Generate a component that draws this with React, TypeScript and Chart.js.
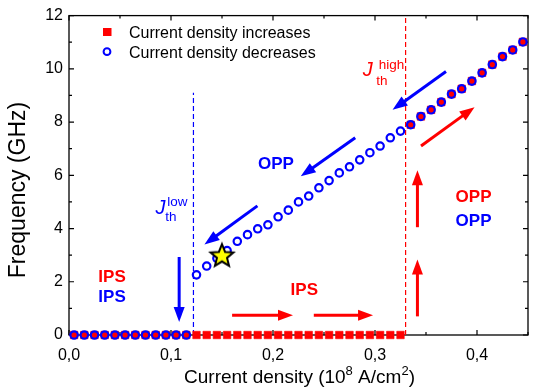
import React, { useEffect, useRef } from "react";
import { Chart, registerables } from "chart.js";

Chart.register(...registerables);

// ---- Data -------------------------------------------------------------
const currentDensity = [
  0.005, 0.015, 0.025, 0.035, 0.045, 0.055, 0.065, 0.075, 0.085, 0.095,
  0.105, 0.115, 0.125, 0.135, 0.145, 0.155, 0.165, 0.175, 0.185, 0.195,
  0.205, 0.215, 0.225, 0.235, 0.245, 0.255, 0.265, 0.275, 0.285, 0.295,
  0.305, 0.315, 0.325, 0.335, 0.345, 0.355, 0.365, 0.375, 0.385, 0.395,
  0.405, 0.415, 0.425, 0.435, 0.445,
];

const freqIncrease = [
  0, 0, 0, 0, 0, 0, 0, 0, 0, 0,
  0, 0, 0, 0, 0, 0, 0, 0, 0, 0,
  0, 0, 0, 0, 0, 0, 0, 0, 0, 0,
  0, 0, 0, 7.9, 8.21, 8.46, 8.75, 9.05, 9.25, 9.54,
  9.85, 10.16, 10.46, 10.71, 11.01,
];

const freqDecrease = [
  0, 0, 0, 0, 0, 0, 0, 0, 0, 0,
  0, 0, 2.26, 2.59, 2.88, 3.17, 3.52, 3.77, 3.99, 4.14,
  4.44, 4.69, 5.0, 5.22, 5.53, 5.8, 6.09, 6.32, 6.58, 6.85,
  7.1, 7.41, 7.66, 7.9, 8.21, 8.46, 8.75, 9.05, 9.25, 9.54,
  9.85, 10.16, 10.46, 10.71, 11.01,
];

const xTicks = [0, 0.1, 0.2, 0.3, 0.4];
const yTicks = [0, 2, 4, 6, 8, 10, 12];

const jLow = 0.122;
const jLowTop = 9.1;
const jHigh = 0.33;

const starPoint = { x: 0.15, y: 2.98 };

const seriesNames = ["Current density increases", "Current density decreases"];

const RED = "#ff0000";
const BLUE = "#0000ff";

// annotations (data coordinates)
const textLabels = [
  { text: "OPP", x: 0.2028, y: 6.42, color: BLUE },
  { text: "IPS", x: 0.0422, y: 2.16, color: RED },
  { text: "IPS", x: 0.0422, y: 1.4, color: BLUE },
  { text: "IPS", x: 0.2307, y: 1.67, color: RED },
  { text: "OPP", x: 0.3966, y: 5.16, color: RED },
  { text: "OPP", x: 0.3966, y: 4.29, color: BLUE },
];

const arrows = [
  { x1: 0.3696, y1: 9.9, x2: 0.3172, y2: 8.46, color: BLUE },
  { x1: 0.2806, y1: 7.41, x2: 0.2272, y2: 5.96, color: BLUE },
  { x1: 0.1847, y1: 4.85, x2: 0.1328, y2: 3.4, color: BLUE },
  { x1: 0.108, y1: 2.93, x2: 0.108, y2: 0.49, color: BLUE },
  { x1: 0.3451, y1: 7.1, x2: 0.3976, y2: 8.56, color: RED },
  { x1: 0.1599, y1: 0.74, x2: 0.2196, y2: 0.74, color: RED },
  { x1: 0.24, y1: 0.74, x2: 0.2981, y2: 0.74, color: RED },
  { x1: 0.3416, y1: 0.7, x2: 0.3416, y2: 2.84, color: RED },
  { x1: 0.3416, y1: 4.05, x2: 0.3416, y2: 6.19, color: RED },
];

const thresholdLabels = [
  { sup: "low", x: 0.0849, y: 4.56, supX: 0.0963, supY: 4.85, subX: 0.0944, subY: 4.3, color: BLUE },
  { sup: "high", x: 0.2879, y: 9.74, supX: 0.3037, supY: 9.98, subX: 0.3013, subY: 9.38, color: RED },
];

const FONT = '"Liberation Sans", Arial, sans-serif';

function makeStar(): HTMLCanvasElement {
  const c = document.createElement("canvas");
  c.width = 30;
  c.height = 30;
  const g = c.getContext("2d")!;
  const cx = 15, cy = 15.5, R = 12, r = 5.3;
  g.beginPath();
  for (let i = 0; i < 10; i++) {
    const a = -Math.PI / 2 + (i * Math.PI) / 5;
    const rad = i % 2 === 0 ? R : r;
    g.lineTo(cx + rad * Math.cos(a), cy + rad * Math.sin(a));
  }
  g.closePath();
  g.fillStyle = "#ffff00";
  g.fill();
  g.lineWidth = 2;
  g.strokeStyle = "#000";
  g.lineJoin = "miter";
  g.stroke();
  return c;
}

function drawArrow(ctx: CanvasRenderingContext2D, x1: number, y1: number, x2: number, y2: number, color: string) {
  const ang = Math.atan2(y2 - y1, x2 - x1);
  const hl = 15, hw = 5.5;
  const bx = x2 - hl * Math.cos(ang);
  const by = y2 - hl * Math.sin(ang);
  ctx.save();
  ctx.strokeStyle = color;
  ctx.lineWidth = 3;
  ctx.beginPath();
  ctx.moveTo(x1, y1);
  ctx.lineTo(bx + Math.cos(ang), by + Math.sin(ang));
  ctx.stroke();
  ctx.fillStyle = color;
  ctx.beginPath();
  ctx.moveTo(x2, y2);
  ctx.lineTo(bx + hw * Math.sin(ang), by - hw * Math.cos(ang));
  ctx.lineTo(bx - hw * Math.sin(ang), by + hw * Math.cos(ang));
  ctx.closePath();
  ctx.fill();
  ctx.restore();
}

const decorPlugin = {
  id: "decor",
  beforeDatasetsDraw(chart: any) {
    const ctx: CanvasRenderingContext2D = chart.ctx;
    const { left, right, top, bottom } = chart.chartArea;
    const xs = chart.scales.x;
    const ys = chart.scales.y;
    ctx.save();
    // frame
    ctx.strokeStyle = "#000";
    ctx.lineWidth = 1.3;
    ctx.strokeRect(left, top, right - left, bottom - top);
    // inward ticks
    ctx.lineWidth = 1.2;
    ctx.beginPath();
    for (let i = 0; i <= 9; i++) {
      const v = i * 0.05;
      const px = xs.getPixelForValue(v);
      const len = i % 2 === 0 ? 5 : 3;
      ctx.moveTo(px, bottom);
      ctx.lineTo(px, bottom - len);
      ctx.moveTo(px, top);
      ctx.lineTo(px, top + len);
    }
    for (let v = 0; v <= 12; v++) {
      const py = ys.getPixelForValue(v);
      const len = v % 2 === 0 ? 5 : 3;
      ctx.moveTo(left, py);
      ctx.lineTo(left + len, py);
      ctx.moveTo(right, py);
      ctx.lineTo(right - len, py);
    }
    ctx.stroke();
    ctx.restore();
  },
  afterDraw(chart: any) {
    const ctx: CanvasRenderingContext2D = chart.ctx;
    const { left } = chart.chartArea;
    const xs = chart.scales.x;
    const ys = chart.scales.y;
    ctx.save();

    // legend
    const lx = left + 38;
    ctx.fillStyle = RED;
    ctx.fillRect(lx - 4, 28, 8.5, 8);
    ctx.strokeStyle = BLUE;
    ctx.lineWidth = 2;
    ctx.beginPath();
    ctx.arc(lx, 51.7, 3.4, 0, Math.PI * 2);
    ctx.stroke();
    ctx.fillStyle = "#000";
    ctx.font = `16px ${FONT}`;
    ctx.textBaseline = "alphabetic";
    ctx.textAlign = "left";
    ctx.fillText(seriesNames[0], 129, 37.5);
    ctx.fillText(seriesNames[1], 129, 57.5);

    // arrows
    for (const a of arrows) {
      drawArrow(
        ctx,
        xs.getPixelForValue(a.x1), ys.getPixelForValue(a.y1),
        xs.getPixelForValue(a.x2), ys.getPixelForValue(a.y2),
        a.color
      );
    }

    // region labels
    ctx.font = `bold 17px ${FONT}`;
    ctx.textAlign = "center";
    ctx.textBaseline = "middle";
    for (const t of textLabels) {
      ctx.fillStyle = t.color;
      ctx.fillText(t.text, xs.getPixelForValue(t.x), ys.getPixelForValue(t.y));
    }

    // threshold labels J_th^low / J_th^high
    ctx.textAlign = "left";
    ctx.textBaseline = "alphabetic";
    for (const t of thresholdLabels) {
      ctx.fillStyle = t.color;
      ctx.font = `italic 20px ${FONT}`;
      ctx.fillText("J", xs.getPixelForValue(t.x), ys.getPixelForValue(t.y));
      ctx.font = `13.5px ${FONT}`;
      ctx.fillText(t.sup, xs.getPixelForValue(t.supX), ys.getPixelForValue(t.supY));
      ctx.fillText("th", xs.getPixelForValue(t.subX), ys.getPixelForValue(t.subY));
    }

    // x axis title with superscripts
    const parts: [string, boolean][] = [
      ["Current density (10", false],
      ["8", true],
      [" A/cm", false],
      ["2", true],
      [")", false],
    ];
    const big = `19px ${FONT}`;
    const small = `13px ${FONT}`;
    let total = 0;
    for (const [s, sup] of parts) {
      ctx.font = sup ? small : big;
      total += ctx.measureText(s).width;
    }
    let cx = 299.5 - total / 2;
    const base = 383;
    ctx.fillStyle = "#000";
    for (const [s, sup] of parts) {
      ctx.font = sup ? small : big;
      ctx.fillText(s, cx, sup ? base - 8 : base);
      cx += ctx.measureText(s).width;
    }

    // y axis title
    ctx.save();
    ctx.translate(24.5, 190);
    ctx.rotate(-Math.PI / 2);
    ctx.font = `23px ${FONT}`;
    ctx.textAlign = "center";
    ctx.fillText("Frequency (GHz)", 0, 0);
    ctx.restore();

    ctx.restore();
  },
};

export default function App() {
  const ref = useRef<HTMLCanvasElement>(null);
  useEffect(() => {
    const star = makeStar();
    const incPts = currentDensity.map((x, i) => ({ x, y: freqIncrease[i] }));
    const decPts = currentDensity.map((x, i) => ({ x, y: freqDecrease[i] }));
    const chart = new Chart(ref.current!, {
      type: "scatter",
      data: {
        datasets: [
          {
            label: "star",
            data: [starPoint],
            pointStyle: star as any,
            pointRadius: 12,
            order: 0,
            clip: false,
          },
          {
            label: seriesNames[1],
            data: decPts,
            pointStyle: "circle",
            pointRadius: 3.7,
            borderWidth: 2.2,
            borderColor: BLUE,
            backgroundColor: "rgba(0,0,0,0)",
            order: 1,
            clip: false,
          },
          {
            label: seriesNames[0],
            data: incPts,
            pointStyle: "rect",
            pointRadius: 5.3,
            borderWidth: 0.6,
            borderColor: RED,
            backgroundColor: RED,
            order: 2,
            clip: false,
          },
          {
            label: "J low",
            data: [{ x: jLow, y: 0 }, { x: jLow, y: jLowTop }],
            showLine: true,
            borderColor: BLUE,
            borderWidth: 1.2,
            borderDash: [5, 3],
            pointRadius: 0,
            order: 3,
          },
          {
            label: "J high",
            data: [{ x: jHigh, y: 0 }, { x: jHigh, y: 12 }],
            showLine: true,
            borderColor: RED,
            borderWidth: 1.2,
            borderDash: [5, 3],
            pointRadius: 0,
            order: 4,
          },
        ],
      },
      options: {
        responsive: false,
        animation: false,
        devicePixelRatio: 1,
        events: [],
        layout: { padding: { top: 11, right: 0, left: 0, bottom: 0 } },
        plugins: { legend: { display: false }, tooltip: { enabled: false } },
        scales: {
          x: {
            type: "linear",
            min: 0,
            max: 0.45,
            afterFit: (s: any) => { s.height = 57; },
            afterBuildTicks: (s: any) => { s.ticks = xTicks.map((v) => ({ value: v })); },
            ticks: {
              callback: (v: any) => Number(v).toFixed(1).replace(".", ","),
              font: { size: 16, family: FONT },
              color: "#000",
              padding: 11,
              maxRotation: 0,
              autoSkip: false,
            },
            grid: { display: false, drawTicks: false },
            border: { display: false },
          },
          y: {
            type: "linear",
            min: 0,
            max: 12,
            afterFit: (s: any) => { s.width = 69; },
            afterBuildTicks: (s: any) => { s.ticks = yTicks.map((v) => ({ value: v })); },
            ticks: {
              callback: (v: any) => String(v),
              font: { size: 16, family: FONT },
              color: "#000",
              padding: 6,
            },
            grid: { display: false, drawTicks: false },
            border: { display: false },
          },
        },
      },
      plugins: [decorPlugin],
    } as any);
    return () => chart.destroy();
  }, []);
  return (
    <div style={{ position: "absolute", left: 0, top: 0, width: 541, height: 392 }}>
      <canvas ref={ref} width={541} height={392} style={{ display: "block", width: 541, height: 392 }} />
    </div>
  );
}
